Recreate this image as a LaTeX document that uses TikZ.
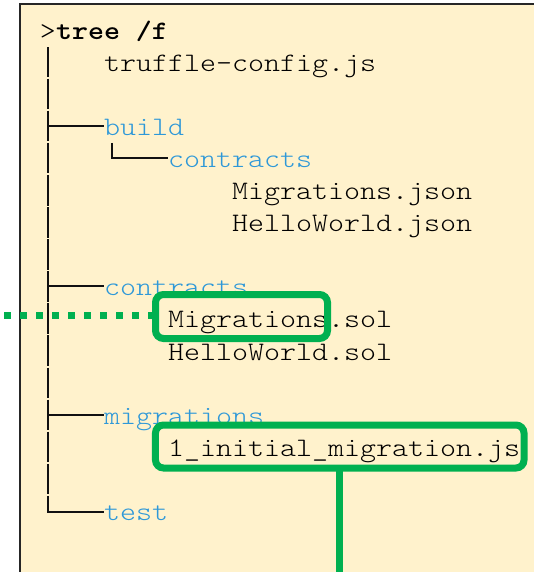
\documentclass[tikz,border=0pt]{standalone}
\usepackage{fontspec}
\setmonofont{lmmonolt10-regular.otf}[BoldFont=lmmonolt10-bold.otf,FakeStretch=1.143]
\definecolor{panelbg}{HTML}{FFF2CC}
\definecolor{gr}{HTML}{00B050}
\definecolor{dirblue}{HTML}{2E98D8}
\definecolor{treeline}{HTML}{111111}
\begin{document}
\begin{tikzpicture}[x=0.75pt,y=-0.75pt,
  txt/.style={anchor=base west,inner sep=0pt,outer sep=0pt,font=\ttfamily\fontsize{20pt}{24pt}\selectfont,text=black},
  dir/.style={txt,text=dirblue},
  tl/.style={draw=treeline,line width=1.5pt},
  gbox/.style={draw=gr,line width=5.25pt,rounded corners=6pt,inner sep=0pt,outer sep=0pt},
  gline/.style={draw=gr,line width=5.25pt},
  gdot/.style={draw=gr,line width=5.25pt,dash pattern=on 5.6pt off 6.4pt}]
\useasboundingbox (0,0) rectangle (534,572);
\clip (0,0) rectangle (534,572);
% panel
\fill[panelbg] (20,4) rectangle (560,600);
\draw[draw=black!85,line width=1.5pt] (20,600) -- (20,4) -- (560,4);
% rows: baseline b_k = 39 + 32.1 k ; column c at x = 40 + 16 c
\newcommand{\bl}[1]{\fpeval{39+32.1*(#1)}}
\node[txt] (prompt) at (40,\bl{0}) {>\textbf{tree /f}};
\node[txt] (truffle) at (104,\bl{1}) {truffle-config.js};
\node[dir] (build) at (104,\bl{3}) {build};
\node[dir] (bcontracts) at (168,\bl{4}) {contracts};
\node[txt] (mjson) at (232,\bl{5}) {Migrations.json};
\node[txt] (hjson) at (232,\bl{6}) {HelloWorld.json};
\node[dir] (contracts) at (104,\bl{8}) {contracts};
\node[txt] (msol) at (168,\bl{9}) {Migrations.sol};
\node[txt] (hsol) at (168,\bl{10}) {HelloWorld.sol};
\node[dir] (migrations) at (104,\bl{12}) {migrations};
\node[txt] (initmig) at (168,\bl{13}) {1\_initial\_migration.js};
\node[dir] (test) at (104,\bl{15}) {test};
% main vertical tree line, one segment per row
\draw[tl] (48,47) -- (48,{\bl{1}+6});
\foreach \k in {2,...,14}{
  \draw[tl] (48,{\bl{\k-1}+7.5}) -- (48,{\bl{\k}+6});
}
\draw[tl] (48,{\bl{14}+7.5}) -- (48,{\bl{15}-9}) -- (test.base west |- 0,{\bl{15}-9});
% branches
\draw[tl] (48,{\bl{3}-9.5}) -- (build.base west |- 0,{\bl{3}-9.5});
\draw[tl] (48,{\bl{8}-9.5}) -- (contracts.base west |- 0,{\bl{8}-9.5});
\draw[tl] (48,{\bl{12}-9.5}) -- (migrations.base west |- 0,{\bl{12}-9.5});
\draw[tl] (112,{\bl{3}+7.5}) -- (112,{\bl{4}-9}) -- (bcontracts.base west |- 0,{\bl{4}-9});
% green highlights
\node[gbox,minimum width=129pt,minimum height=33pt] (mbox) at (241.5,316.5) {};
\node[gbox,minimum width=276.4pt,minimum height=32.25pt] (ibox) at (339.75,446.5) {};
\coordinate (dotstart) at (4,315);
\coordinate (downend) at (339.5,580);
\draw[gdot] (dotstart) -- (dotstart -| mbox.west);
\draw[gline] (ibox.south -| downend) -- (downend);
\end{tikzpicture}
\end{document}
